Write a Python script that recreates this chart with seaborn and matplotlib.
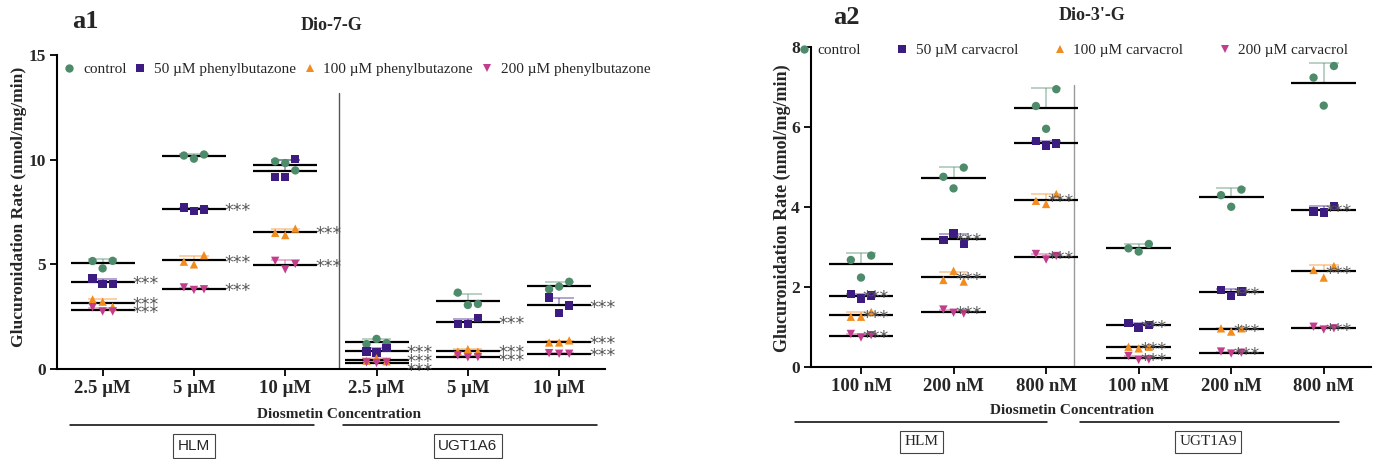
import numpy as np
import pandas as pd
import matplotlib.pyplot as plt
import seaborn as sns

# ---- panel a1 : Dio-7-G, phenylbutazone ----
a1_categories = ['2.5 µM', '5 µM', '10 µM', '2.5 µM', '5 µM', '10 µM']
a1_series = ['control', '50 µM phenylbutazone', '100 µM phenylbutazone', '200 µM phenylbutazone']
a1_control = [[5.16, 4.81, 5.17], [10.20, 10.05, 10.25], [9.92, 9.84, 9.49],
              [1.19, 1.44, 1.24], [3.65, 3.06, 3.11], [3.81, 3.94, 4.17]]
a1_50 = [[4.33, 4.06, 4.06], [7.71, 7.56, 7.62], [9.17, 9.17, 10.05],
         [0.84, 0.79, 1.00], [2.14, 2.14, 2.43], [3.41, 2.67, 3.03]]
a1_100 = [[3.33, 3.22, 2.98], [5.13, 5.00, 5.44], [6.51, 6.40, 6.71],
          [0.40, 0.52, 0.37], [0.84, 0.95, 0.84], [1.27, 1.27, 1.37]]
a1_200 = [[2.95, 2.75, 2.75], [3.90, 3.78, 3.81], [5.17, 4.76, 5.02],
          [0.32, 0.29, 0.32], [0.65, 0.56, 0.57], [0.76, 0.73, 0.73]]
a1_stars = [[0, 0, 0, 0, 0, 0], [1, 1, 0, 1, 1, 1], [1, 1, 1, 1, 1, 1], [1, 1, 1, 1, 1, 1]]
a1_groups = ['HLM', 'UGT1A6']

# ---- panel a2 : Dio-3'-G, carvacrol ----
a2_categories = ['100 nM', '200 nM', '800 nM', '100 nM', '200 nM', '800 nM']
a2_series = ['control', '50 µM carvacrol', '100 µM carvacrol', '200 µM carvacrol']
a2_control = [[2.67, 2.23, 2.78], [4.75, 4.46, 4.98], [6.52, 5.95, 6.94],
              [2.96, 2.88, 3.07], [4.29, 4.00, 4.43], [7.23, 6.53, 7.52]]
a2_50 = [[1.82, 1.71, 1.78], [3.17, 3.33, 3.08], [5.64, 5.53, 5.58],
         [1.10, 0.98, 1.04], [1.92, 1.77, 1.88], [3.88, 3.86, 4.02]]
a2_100 = [[1.25, 1.25, 1.37], [2.17, 2.40, 2.13], [4.15, 4.07, 4.32],
          [0.50, 0.46, 0.50], [0.96, 0.88, 0.96], [2.42, 2.23, 2.52]]
a2_200 = [[0.82, 0.73, 0.79], [1.43, 1.35, 1.33], [2.82, 2.68, 2.77],
          [0.27, 0.17, 0.18], [0.38, 0.33, 0.35], [1.00, 0.93, 0.96]]
a2_stars = [[0, 0, 0, 0, 0, 0], [1, 1, 0, 1, 1, 1], [1, 1, 1, 1, 1, 1], [1, 1, 1, 1, 1, 1]]
a2_groups = ['HLM', 'UGT1A9']

colors = ['#4d8b6b', '#3d1c82', '#f28c1f', '#c23d8c']
markers = ['o', 's', '^', 'v']
rep_offsets = [-0.11, 0.0, 0.11]

sns.set_theme(style='ticks')
plt.rcParams['font.family'] = ['Liberation Serif', 'DejaVu Sans']


def to_long(series_names, series_values):
    rows = []
    for name, values in zip(series_names, series_values):
        for ci, reps in enumerate(values):
            for ri, v in enumerate(reps):
                rows.append({'series': name, 'cat': ci, 'x': ci + rep_offsets[ri], 'rate': v})
    return pd.DataFrame(rows)


def draw_panel(ax, categories, series_names, series_values, stars, xlim, ylim, yticks,
               star_dx, star_gap, star_dy, sep_x, sep_top, sep_color, ylabel_size):
    df = to_long(series_names, series_values)
    stats = df.groupby(['series', 'cat'], sort=False)['rate'].agg(['mean', 'std']).reset_index()

    # mean lines and upper SD bars
    for si, name in enumerate(series_names):
        st = stats[stats['series'] == name]
        ax.hlines(st['mean'] + st['std'], st['cat'] - 0.16, st['cat'] + 0.16,
                  color=colors[si], alpha=0.5, lw=1.1, zorder=2)
        ax.vlines(st['cat'], st['mean'], st['mean'] + st['std'],
                  color=colors[si], alpha=0.5, lw=1.1, zorder=2)
        ax.hlines(st['mean'], st['cat'] - 0.35, st['cat'] + 0.35,
                  color='black', lw=1.6, zorder=3)

    sns.scatterplot(data=df, x='x', y='rate', hue='series', style='series',
                    palette=colors, markers=markers, s=36, linewidth=0,
                    ax=ax, zorder=4)

    # significance marks, nudged apart where they would collide
    for ci in range(len(categories)):
        placed = []
        for si, name in enumerate(series_names):
            if not stars[si][ci]:
                continue
            y = stats[(stats['series'] == name) & (stats['cat'] == ci)]['mean'].iloc[0]
            if placed and placed[-1] - y < star_gap:
                y = placed[-1] - star_gap
            placed.append(y)
            ax.text(ci + star_dx, y - star_dy, '***', ha='left', va='center', color='#555555',
                    fontsize=12.5, family='DejaVu Sans', zorder=5)

    ax.plot([sep_x, sep_x], [0, sep_top], color=sep_color, lw=1.0, zorder=1)

    ax.set_xlim(*xlim)
    ax.set_ylim(*ylim)
    ax.set_yticks(yticks)
    ax.set_xticks(range(len(categories)))
    ax.set_xticklabels(categories)
    for lab in ax.get_xticklabels():
        lab.set_fontweight('bold')
        lab.set_fontsize(13.5)
    for lab in ax.get_yticklabels():
        lab.set_fontweight('bold')
        lab.set_fontsize(12.5)
    ax.tick_params(axis='both', length=5, width=1.3, pad=3, color='black')
    for sp in ['left', 'bottom']:
        ax.spines[sp].set_linewidth(1.5)
        ax.spines[sp].set_color('black')
    sns.despine(ax=ax)
    ax.set_ylabel('Glucuronidation Rate (nmol/mg/min)', fontsize=ylabel_size, fontweight='bold')
    ax.set_xlabel('Diosmetin Concentration', fontsize=11, fontweight='bold')


fig = plt.figure(figsize=(13.73, 4.59), dpi=100)
ax1 = fig.add_axes([0.0415, 0.196, 0.399, 0.684])
ax2 = fig.add_axes([0.5907, 0.201, 0.4078, 0.697])

draw_panel(ax1, a1_categories, a1_series, [a1_control, a1_50, a1_100, a1_200], a1_stars,
           (-0.5, 5.5), (0, 15), [0, 5, 10, 15], 0.33, 0.4, 0.1, 2.59, 13.2, '#555555', 12.6)
draw_panel(ax2, a2_categories, a2_series, [a2_control, a2_50, a2_100, a2_200], a2_stars,
           (-0.54, 5.51), (0, 8), [0, 2, 4, 6, 8], 0.02, 0.25, 0.06, 2.3, 7.04, '#999999', 13.0)

# axis label placement
ax1.yaxis.set_label_coords(-0.055, 0.517)
ax1.xaxis.set_label_coords(0.514, -0.123)
ax2.yaxis.set_label_coords(-0.035, 0.497)
ax2.xaxis.set_label_coords(0.466, -0.117)

# legends along the top
sns.move_legend(ax1, 'center left', bbox_to_anchor=(0.0, 0.955), ncol=4, frameon=False,
                title=None, fontsize=11, handletextpad=0.5, columnspacing=0.5,
                borderaxespad=0, handlelength=0.8, markerscale=1.0)
sns.move_legend(ax2, 'center left', bbox_to_anchor=(-0.035, 0.99), ncol=4, frameon=False,
                title=None, fontsize=11, handletextpad=0.5, columnspacing=2.3,
                borderaxespad=0, handlelength=0.8, markerscale=1.0)

# group brackets below each panel
def group_bars(ax, groups, spans, centers, line_y, text_y, family):
    tr = ax.get_xaxis_transform()
    for g, (x0, x1), xc in zip(groups, spans, centers):
        ax.plot([x0, x1], [line_y, line_y], color='black', lw=1.1, transform=tr, clip_on=False)
        ax.text(xc, text_y, g, transform=tr, ha='center', va='center', fontsize=11,
                family=family, clip_on=False,
                bbox=dict(boxstyle='square,pad=0.3', fc='white', ec='#444444', lw=0.8))

group_bars(ax1, a1_groups, [(-0.36, 2.32), (2.63, 5.41)], [1.0, 4.0], -0.178, -0.245,
           'Liberation Sans')
group_bars(ax2, a2_groups, [(-0.71, 2.01), (2.37, 5.17)], [0.65, 3.75], -0.173, -0.235,
           'Liberation Serif')

# panel letters and titles
fig.text(72 / 1373, 1 - 22 / 459, 'a1', fontsize=19, fontweight='bold', va='center')
fig.text(332 / 1373, 1 - 25 / 459, 'Dio-7-G', fontsize=13, fontweight='bold', ha='center', va='center')
fig.text(833 / 1373, 1 - 18 / 459, 'a2', fontsize=19, fontweight='bold', va='center')
fig.text(1092 / 1373, 1 - 15 / 459, "Dio-3'-G", fontsize=13, fontweight='bold', ha='center', va='center')

fig.savefig('out.png', dpi=100)
